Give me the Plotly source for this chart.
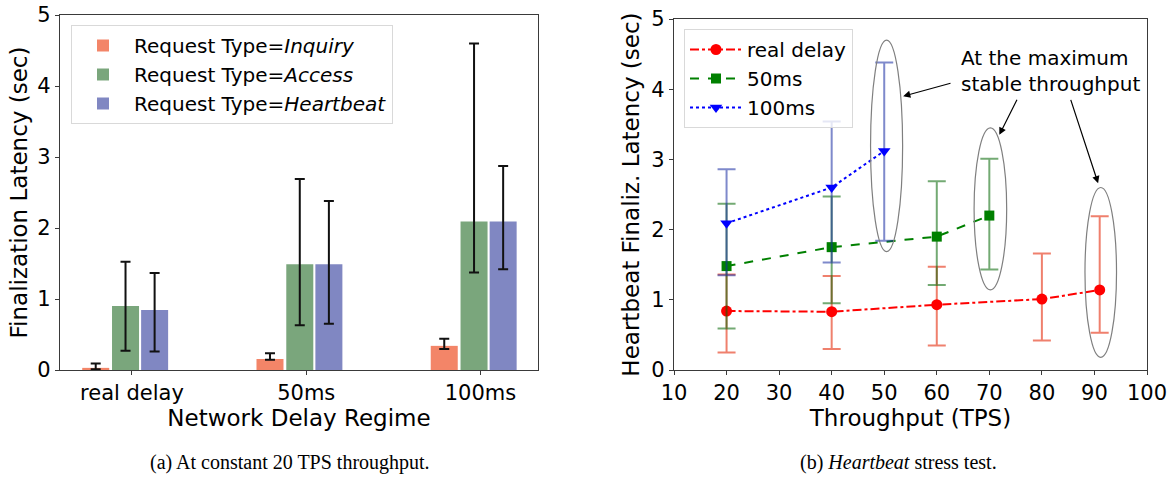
import plotly.graph_objects as go

# ---------------- data: (a) bar chart ----------------
categories = ["real delay", "50ms", "100ms"]
inquiry_mean = [0.03, 0.155, 0.34]
inquiry_hi = [0.09, 0.235, 0.44]
inquiry_lo = [0.01, 0.145, 0.295]
access_mean = [0.90, 1.49, 2.09]
access_hi = [1.525, 2.69, 4.60]
access_lo = [0.27, 0.63, 1.375]
heartbeat_mean = [0.845, 1.49, 2.09]
heartbeat_hi = [1.365, 2.38, 2.875]
heartbeat_lo = [0.26, 0.65, 1.42]

# ---------------- data: (b) stress test ----------------
tps_real = [20, 40, 60, 80, 91]
real_mean = [0.84, 0.83, 0.93, 1.01, 1.14]
real_hi = [1.36, 1.34, 1.47, 1.66, 2.19]
real_lo = [0.25, 0.30, 0.35, 0.42, 0.53]
tps_50 = [20, 40, 60, 70]
ms50_mean = [1.48, 1.75, 1.90, 2.20]
ms50_hi = [2.37, 2.47, 2.69, 3.01]
ms50_lo = [0.59, 0.95, 1.21, 1.43]
tps_100 = [20, 40, 50]
ms100_mean = [2.09, 2.60, 3.12]
ms100_hi = [2.86, 3.54, 4.38]
ms100_lo = [1.35, 1.53, 1.84]

W, H = 1170, 477
FONT = "DejaVu Sans"


def px_x(p):
    return p / W


def px_y(p):
    return 1 - p / H


def up(hi, m):
    return [h - v for h, v in zip(hi, m)]


def dn(lo, m):
    return [v - l for l, v in zip(lo, m)]


fig = go.Figure()

bar_specs = [
    ("Request Type=<i>Inquiry</i>", inquiry_mean, inquiry_hi, inquiry_lo, "#F38568", -0.208),
    ("Request Type=<i>Access</i>", access_mean, access_hi, access_lo, "#7AA67C", -0.037),
    ("Request Type=<i>Heartbeat</i>", heartbeat_mean, heartbeat_hi, heartbeat_lo, "#8087C2", 0.130),
]
BW = 0.155
for name, m, hi, lo, col, center in bar_specs:
    fig.add_trace(go.Bar(
        x=categories, y=m, name=name, marker=dict(color=col, line=dict(width=0)),
        width=BW, offset=center - BW / 2,
        error_y=dict(type="data", symmetric=False, array=up(hi, m), arrayminus=dn(lo, m),
                     color="#111111", thickness=2, width=5),
        xaxis="x", yaxis="y", legend="legend",
    ))

line_specs = [
    ("real delay", tps_real, real_mean, real_hi, real_lo, "#FF0000", "rgba(230,60,30,0.65)", "dashdot", "circle", 11),
    ("50ms", tps_50, ms50_mean, ms50_hi, ms50_lo, "#008000", "rgba(0,100,0,0.55)", "dash", "square", 10),
    ("100ms", tps_100, ms100_mean, ms100_hi, ms100_lo, "#0000FF", "rgba(20,40,160,0.55)", "dot", "triangle-down", 11),
]
for name, xs, m, hi, lo, col, ecol, dash, sym, ms in line_specs:
    fig.add_trace(go.Scatter(
        x=xs, y=m, name=name, mode="lines+markers",
        line=dict(color=col, width=2, dash=dash),
        marker=dict(color=col, symbol=sym, size=ms),
        error_y=dict(type="data", symmetric=False, array=up(hi, m), arrayminus=dn(lo, m),
                     color=ecol, thickness=2, width=9),
        xaxis="x2", yaxis="y2", legend="legend2",
    ))

axis_common = dict(
    showline=True, mirror=True, linecolor="#3a3a3a", linewidth=1.3, automargin=False,
    ticks="outside", ticklen=4, tickcolor="#3a3a3a", showgrid=False, zeroline=False,
    tickfont=dict(family=FONT, size=21, color="black"),
)

fig.update_layout(
    template="none",
    width=W, height=H, margin=dict(l=0, r=0, t=0, b=0, pad=0),
    paper_bgcolor="white", plot_bgcolor="white",
    font=dict(family=FONT, color="black"),
    barmode="overlay",
    xaxis=dict(domain=[px_x(60), px_x(538)], type="category", range=[-0.413, 2.33],
               title=dict(text="Network Delay Regime", font=dict(size=23), standoff=2),
               anchor="y", **axis_common),
    yaxis=dict(domain=[px_y(370), px_y(15)], range=[0, 5], dtick=1,
               title=dict(text="Finalization Latency (sec)", font=dict(size=23), standoff=3),
               anchor="x", **axis_common),
    xaxis2=dict(domain=[px_x(674), px_x(1147)], range=[10, 100], dtick=10,
                title=dict(text="Throughput (TPS)", font=dict(size=23), standoff=2),
                anchor="y2", **axis_common),
    yaxis2=dict(domain=[px_y(370), px_y(19)], range=[0, 5], dtick=1,
                title=dict(text="Heartbeat Finaliz. Latency (sec)", font=dict(size=23), standoff=5),
                anchor="x2", **axis_common),
    legend=dict(x=px_x(71), y=px_y(25), xanchor="left", yanchor="top", itemwidth=52,
                bordercolor="#d9d9d9", borderwidth=1, bgcolor="rgba(255,255,255,0.8)",
                font=dict(family=FONT, size=20)),
    legend2=dict(x=px_x(684), y=px_y(29), xanchor="left", yanchor="top", itemwidth=52,
                 bordercolor="#d9d9d9", borderwidth=1, bgcolor="rgba(255,255,255,0.8)",
                 font=dict(family=FONT, size=20)),
)

# ellipses highlighting maximum stable throughput
ellipses = [(47.4, 53.5, 1.685, 4.70), (67.1, 73.3, 1.14, 3.45), (88.2, 94.2, 0.18, 2.60)]
for x0, x1, y0, y1 in ellipses:
    fig.add_shape(type="circle", xref="x2", yref="y2", x0=x0, x1=x1, y0=y0, y1=y1,
                  line=dict(color="#7f7f7f", width=1.2))

fig.add_annotation(x=64.2, y=4.26, xref="x2", yref="y2", xanchor="left", yanchor="middle",
                   text="At the maximum<br>stable throughput", showarrow=False, align="left",
                   font=dict(family=FONT, size=20, color="black"))
arrows = [((53.6, 3.90), (62.9, 4.09)), ((71.9, 3.35), (75.4, 3.87)), ((90.7, 2.66), (85.4, 3.87))]
for (tx, ty), (sx, sy) in arrows:
    fig.add_annotation(x=tx, y=ty, ax=sx, ay=sy, xref="x2", yref="y2", axref="x2", ayref="y2",
                       text="", showarrow=True, arrowhead=2, arrowsize=1.2, arrowwidth=1.2,
                       arrowcolor="black")

fig.add_annotation(x=px_x(290), y=px_y(462), xref="paper", yref="paper", showarrow=False,
                   xanchor="center", yanchor="middle",
                   text="(a) At constant 20 TPS throughput.",
                   font=dict(family="Liberation Serif", size=20, color="black"))
fig.add_annotation(x=px_x(898), y=px_y(462), xref="paper", yref="paper", showarrow=False,
                   xanchor="center", yanchor="middle",
                   text="(b) <i>Heartbeat</i> stress test.",
                   font=dict(family="Liberation Serif", size=20, color="black"))

fig.write_html("out.html", config={"displayModeBar": False},
               post_script="document.body.style.margin='0';")
